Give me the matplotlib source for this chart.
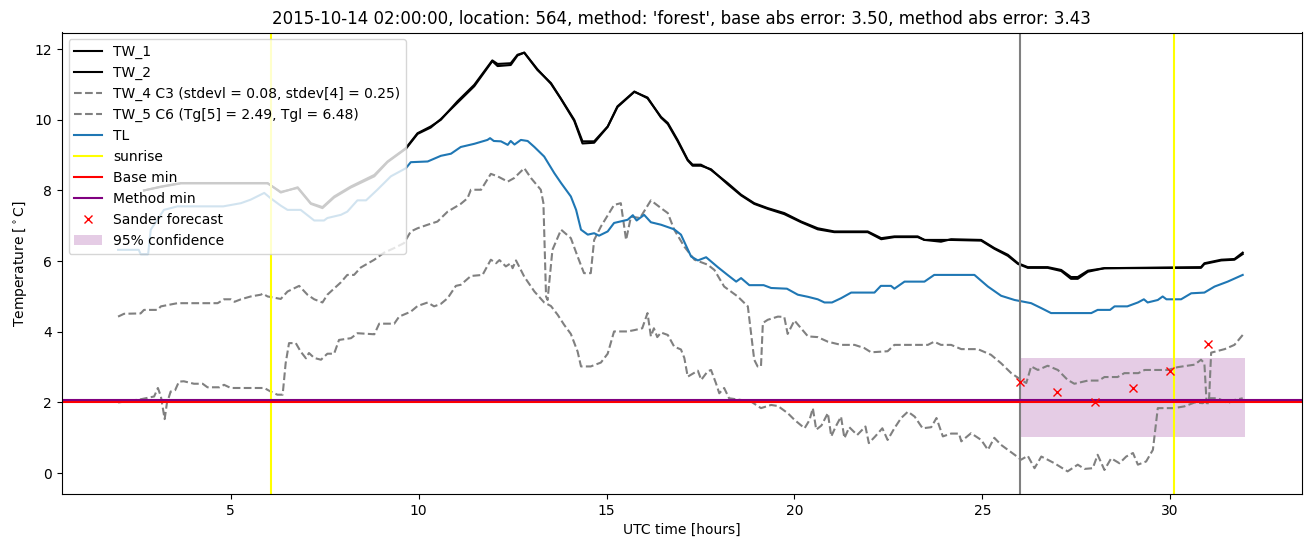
import numpy as np
import matplotlib
matplotlib.use("Agg")
import matplotlib.pyplot as plt

title = ("2015-10-14 02:00:00, location: 564, method: 'forest', "
         "base abs error: 3.50, method abs error: 3.43")

# (hour, temperature) pairs
tw1 = [(2.69, 8.0), (3.14, 8.11), (3.67, 8.21), (5.98, 8.21), (6.33, 7.94), (6.78, 8.09),
       (7.13, 7.64), (7.44, 7.53), (7.75, 7.83), (8.19, 8.11), (8.82, 8.44), (9.17, 8.82),
       (9.66, 9.2), (9.97, 9.62), (10.32, 9.81), (10.59, 10.0), (11.03, 10.52), (11.48, 10.99),
       (11.96, 11.68), (12.1, 11.58), (12.45, 11.6), (12.63, 11.84), (12.81, 11.9), (13.16, 11.41),
       (13.52, 11.04), (13.78, 10.61), (14.14, 10.0), (14.36, 9.39), (14.67, 9.39), (15.03, 9.81),
       (15.29, 10.38), (15.74, 10.8), (16.09, 10.61), (16.45, 10.08), (16.63, 9.91), (16.89, 9.43),
       (17.16, 8.87), (17.29, 8.73), (17.51, 8.73), (17.78, 8.58), (18.22, 8.21), (18.58, 7.88),
       (18.93, 7.64), (19.29, 7.5), (19.73, 7.36), (20.18, 7.12), (20.62, 6.93), (21.06, 6.84),
       (21.95, 6.84), (22.31, 6.65), (22.66, 6.7), (23.28, 6.7), (23.46, 6.6), (23.9, 6.55),
       (24.17, 6.62), (24.97, 6.6), (25.32, 6.37), (25.68, 6.18), (25.95, 5.94), (26.21, 5.83),
       (26.74, 5.83), (27.1, 5.75), (27.36, 5.55), (27.54, 5.55), (27.81, 5.73), (28.25, 5.8),
       (30.82, 5.83), (30.91, 5.94), (31.36, 6.04), (31.71, 6.06), (31.93, 6.24)]

tw2 = [(2.69, 8.0), (3.14, 8.1), (3.67, 8.2), (5.98, 8.2), (6.33, 7.96), (6.78, 8.07),
       (7.13, 7.62), (7.44, 7.5), (7.75, 7.8), (8.19, 8.08), (8.82, 8.4), (9.17, 8.8),
       (9.66, 9.18), (9.97, 9.6), (10.32, 9.78), (10.59, 10.02), (11.03, 10.48), (11.48, 10.95),
       (11.96, 11.66), (12.1, 11.52), (12.45, 11.55), (12.63, 11.82), (12.81, 11.9), (13.16, 11.43),
       (13.52, 11.02), (13.78, 10.6), (14.14, 9.97), (14.36, 9.33), (14.67, 9.35), (15.03, 9.8),
       (15.29, 10.36), (15.74, 10.79), (16.09, 10.63), (16.45, 10.06), (16.63, 9.88), (16.89, 9.4),
       (17.16, 8.85), (17.29, 8.7), (17.51, 8.7), (17.78, 8.6), (18.22, 8.18), (18.58, 7.86),
       (18.93, 7.62), (19.29, 7.48), (19.73, 7.33), (20.18, 7.1), (20.62, 6.9), (21.06, 6.82),
       (21.95, 6.82), (22.31, 6.62), (22.66, 6.68), (23.28, 6.68), (23.46, 6.6), (23.9, 6.6),
       (24.17, 6.6), (24.97, 6.58), (25.32, 6.35), (25.68, 6.15), (25.95, 5.92), (26.21, 5.81),
       (26.74, 5.81), (27.1, 5.72), (27.36, 5.5), (27.54, 5.5), (27.81, 5.7), (28.25, 5.8),
       (30.82, 5.81), (30.91, 5.92), (31.36, 6.02), (31.71, 6.04), (31.93, 6.2)]

tw4 = [(2.0, 4.43), (2.16, 4.51), (2.6, 4.52), (2.69, 4.62), (3.05, 4.62), (3.14, 4.72),
       (3.58, 4.81), (4.65, 4.81), (4.82, 4.92), (5.0, 4.92), (5.1, 4.85), (5.27, 4.92),
       (5.53, 5.0), (5.8, 5.05), (5.85, 5.08), (5.98, 5.0), (6.24, 4.95), (6.33, 4.93),
       (6.51, 5.14), (6.82, 5.3), (7.04, 5.05), (7.22, 4.92), (7.44, 4.83), (7.57, 5.05),
       (7.93, 5.4), (8.1, 5.61), (8.28, 5.61), (8.46, 5.82), (8.82, 6.04), (9.08, 6.24),
       (9.35, 6.37), (9.61, 6.51), (9.79, 6.84), (9.97, 6.93), (10.24, 7.03), (10.5, 7.12),
       (10.77, 7.4), (11.12, 7.62), (11.3, 7.78), (11.39, 8.02), (11.66, 8.02), (11.92, 8.47),
       (12.1, 8.4), (12.37, 8.25), (12.54, 8.35), (12.81, 8.63), (12.99, 8.35), (13.25, 8.02),
       (13.32, 7.64), (13.39, 5.0), (13.43, 4.9), (13.56, 6.32), (13.79, 6.89), (14.05, 6.65),
       (14.23, 6.13), (14.4, 5.66), (14.58, 5.66), (14.67, 6.6), (14.85, 6.98), (15.2, 7.59),
       (15.38, 7.64), (15.52, 6.6), (15.65, 7.26), (15.89, 7.22), (16.18, 7.72), (16.45, 7.5),
       (16.63, 7.36), (16.8, 6.89), (17.07, 6.41), (17.34, 6.04), (17.69, 5.9), (17.87, 5.75),
       (18.13, 5.28), (18.49, 5.0), (18.76, 4.72), (18.93, 3.21), (19.02, 3.02), (19.11, 3.02),
       (19.16, 4.25), (19.29, 4.34), (19.56, 4.43), (19.73, 4.42), (19.82, 3.94), (20.0, 4.32),
       (20.36, 3.87), (20.62, 3.85), (20.89, 3.72), (21.24, 3.63), (21.6, 3.63), (21.86, 3.54),
       (22.04, 3.42), (22.48, 3.45), (22.66, 3.63), (23.55, 3.63), (23.72, 3.72), (23.9, 3.63),
       (24.17, 3.63), (24.44, 3.51), (24.88, 3.51), (25.23, 3.35), (25.5, 3.11), (25.77, 2.83),
       (26.03, 2.64), (26.17, 2.55), (26.3, 3.02), (26.48, 2.92), (26.74, 3.04), (27.01, 2.92),
       (27.27, 2.64), (27.45, 2.53), (27.81, 2.62), (28.1, 2.62), (28.25, 2.72), (28.6, 2.72),
       (28.78, 2.83), (29.15, 2.83), (29.32, 2.92), (29.94, 2.92), (30.2, 3.0), (30.65, 3.07),
       (30.82, 3.21), (30.91, 3.11), (30.97, 1.98), (31.03, 1.98), (31.09, 3.41), (31.45, 3.51),
       (31.71, 3.63), (31.93, 3.91)]

tw5 = [(2.0, 2.0), (2.6, 2.09), (2.96, 2.17), (3.06, 2.41), (3.14, 2.17), (3.24, 1.53),
       (3.3, 1.98), (3.4, 2.31), (3.52, 2.35), (3.62, 2.59), (3.75, 2.6), (4.02, 2.53),
       (4.25, 2.53), (4.38, 2.43), (4.7, 2.43), (4.82, 2.5), (5.0, 2.41), (5.89, 2.41),
       (6.06, 2.31), (6.24, 2.22), (6.38, 2.22), (6.46, 3.11), (6.55, 3.68), (6.73, 3.68),
       (6.86, 3.44), (7.0, 3.25), (7.08, 3.4), (7.22, 3.26), (7.4, 3.21), (7.57, 3.38),
       (7.75, 3.38), (7.88, 3.77), (8.2, 3.82), (8.37, 3.96), (8.82, 3.93), (8.95, 4.23),
       (9.35, 4.23), (9.48, 4.43), (9.79, 4.57), (9.97, 4.73), (10.24, 4.83), (10.41, 4.72),
       (10.59, 4.79), (10.77, 4.95), (10.99, 5.3), (11.12, 5.33), (11.39, 5.58), (11.7, 5.61),
       (11.92, 6.04), (12.06, 5.94), (12.15, 6.03), (12.32, 5.85), (12.45, 5.94), (12.5, 5.8),
       (12.59, 6.02), (12.81, 5.56), (13.08, 5.14), (13.34, 4.83), (13.52, 4.73), (13.7, 4.48),
       (13.87, 4.2), (14.05, 3.94), (14.23, 3.44), (14.32, 3.02), (14.58, 3.02), (14.85, 3.13),
       (15.03, 3.38), (15.2, 4.01), (15.56, 4.01), (15.75, 4.05), (15.95, 4.1), (16.09, 4.53),
       (16.18, 3.87), (16.26, 4.1), (16.35, 3.85), (16.45, 3.98), (16.63, 3.91), (16.8, 3.58),
       (16.98, 3.5), (17.07, 3.26), (17.16, 2.73), (17.3, 2.82), (17.43, 2.9), (17.52, 2.64),
       (17.69, 2.88), (17.78, 2.92), (17.91, 2.55), (18.0, 2.26), (18.13, 2.41), (18.26, 2.12),
       (18.58, 2.07), (18.84, 2.03), (19.11, 1.84), (19.38, 1.93), (19.56, 1.9), (19.82, 1.7),
       (20.0, 1.51), (20.27, 1.27), (20.4, 1.5), (20.49, 1.84), (20.58, 1.23), (20.72, 1.35),
       (20.89, 1.7), (20.98, 1.04), (21.1, 1.32), (21.24, 1.6), (21.33, 0.99), (21.46, 1.3),
       (21.67, 1.08), (21.89, 1.32), (21.98, 0.85), (22.15, 1.04), (22.34, 1.27), (22.48, 0.94),
       (22.66, 1.27), (22.84, 1.56), (23.02, 1.74), (23.2, 1.6), (23.41, 1.27), (23.64, 1.3),
       (23.78, 1.56), (23.95, 1.04), (24.17, 1.12), (24.38, 1.12), (24.44, 0.9), (24.7, 1.13),
       (24.97, 0.94), (25.15, 0.66), (25.32, 1.0), (25.5, 0.8), (25.68, 0.66), (25.86, 0.52),
       (26.03, 0.38), (26.21, 0.49), (26.39, 0.14), (26.57, 0.47), (26.74, 0.38), (26.92, 0.28),
       (27.27, 0.05), (27.54, 0.24), (27.72, 0.12), (27.94, 0.14), (28.07, 0.52), (28.25, 0.09),
       (28.43, 0.42), (28.65, 0.28), (28.83, 0.47), (29.01, 0.57), (29.14, 0.24), (29.36, 0.33),
       (29.54, 0.66), (29.67, 1.84), (30.1, 1.84), (30.38, 1.89), (30.65, 2.0), (30.87, 1.98),
       (31.0, 2.12), (31.27, 2.12), (31.53, 1.98), (31.71, 2.07), (31.93, 2.12)]

tl = [(2.0, 6.32), (2.55, 6.32), (2.6, 6.2), (2.8, 6.2), (2.87, 6.89), (3.22, 7.45),
      (3.58, 7.55), (4.8, 7.55), (5.27, 7.64), (5.53, 7.74), (5.89, 7.93), (6.06, 7.78),
      (6.33, 7.57), (6.51, 7.45), (6.86, 7.45), (7.22, 7.15), (7.48, 7.15), (7.57, 7.22),
      (7.93, 7.31), (8.1, 7.4), (8.37, 7.72), (8.6, 7.72), (8.9, 8.02), (9.26, 8.4),
      (9.66, 8.63), (9.79, 8.8), (10.24, 8.82), (10.59, 8.98), (10.86, 9.04), (11.12, 9.23),
      (11.48, 9.32), (11.83, 9.43), (11.9, 9.48), (12.0, 9.4), (12.19, 9.39), (12.37, 9.29),
      (12.45, 9.4), (12.55, 9.3), (12.72, 9.43), (12.9, 9.4), (13.08, 9.23), (13.34, 8.96),
      (13.61, 8.49), (13.79, 8.21), (14.05, 7.83), (14.19, 7.45), (14.32, 6.89), (14.5, 6.75),
      (14.67, 6.79), (14.8, 6.72), (15.03, 6.84), (15.2, 7.08), (15.56, 7.17), (15.7, 7.3),
      (15.8, 7.15), (16.0, 7.31), (16.18, 7.1), (16.45, 7.03), (16.8, 6.9), (16.98, 6.75),
      (17.25, 6.13), (17.43, 6.02), (17.65, 6.11), (17.96, 5.83), (18.22, 5.61), (18.45, 5.42),
      (18.58, 5.52), (18.8, 5.32), (19.18, 5.32), (19.38, 5.24), (19.8, 5.22), (20.09, 5.05),
      (20.36, 4.99), (20.62, 4.92), (20.8, 4.83), (21.0, 4.83), (21.24, 4.95), (21.51, 5.11),
      (22.13, 5.11), (22.3, 5.3), (22.57, 5.3), (22.66, 5.22), (22.93, 5.42), (23.46, 5.42),
      (23.72, 5.61), (24.79, 5.61), (25.15, 5.28), (25.5, 5.02), (25.86, 4.9), (26.3, 4.81),
      (26.57, 4.67), (26.83, 4.53), (27.9, 4.53), (28.07, 4.62), (28.4, 4.62), (28.52, 4.72),
      (28.86, 4.72), (29.14, 4.83), (29.3, 4.92), (29.4, 4.83), (29.67, 4.9), (29.8, 5.0),
      (29.9, 4.92), (30.29, 4.92), (30.56, 5.09), (30.91, 5.11), (31.18, 5.28), (31.53, 5.42),
      (31.93, 5.61)]

sunrise = [6.08, 30.1]
forecast_start = 26.0
base_min = 2.01
method_min = 2.06
sander_t = [26, 27, 28, 29, 30, 31]
sander_v = [2.59, 2.31, 2.0, 2.42, 2.9, 3.66]
conf_t = [26.0, 32.0]
conf_lo = [1.02, 1.02]
conf_hi = [3.25, 3.25]


def xy(pairs):
    a = np.array(pairs)
    return a[:, 0], a[:, 1]


fig = plt.figure(figsize=(13.1, 5.47), dpi=100)
ax = fig.add_axes([61.7 / 1310, 1 - 494 / 547, 1240 / 1310, 461.5 / 547])

ax.plot(*xy(tw1), color="black", label="TW_1")
ax.plot(*xy(tw2), color="black", label="TW_2")
ax.plot(*xy(tw4), color="gray", ls="--", label="TW_4 C3 (stdevl = 0.08, stdev[4] = 0.25)")
ax.plot(*xy(tw5), color="gray", ls="--", label="TW_5 C6 (Tg[5] = 2.49, Tgl = 6.48)")
ax.plot(*xy(tl), color="tab:blue", label="TL")
ax.axvline(sunrise[0], color="yellow", label="sunrise")
ax.axvline(sunrise[1], color="yellow")
ax.axvline(forecast_start, color="gray")
ax.axhline(base_min, color="red", label="Base min")
ax.axhline(method_min, color="purple", label="Method min")
ax.plot(sander_t, sander_v, "x", color="red", ls="none", label="Sander forecast")
ax.fill_between(conf_t, conf_lo, conf_hi, color="purple", alpha=0.2, lw=0,
                label="95% confidence")

ax.set_xlim(0.5, 33.5)
ax.set_ylim(-0.59, 12.47)
ax.set_xlabel("UTC time [hours]")
ax.set_ylabel(r"Temperature [$^\circ$C]")
ax.set_title(title)
ax.legend(loc="upper left")

fig.savefig("out.png", dpi=100)
